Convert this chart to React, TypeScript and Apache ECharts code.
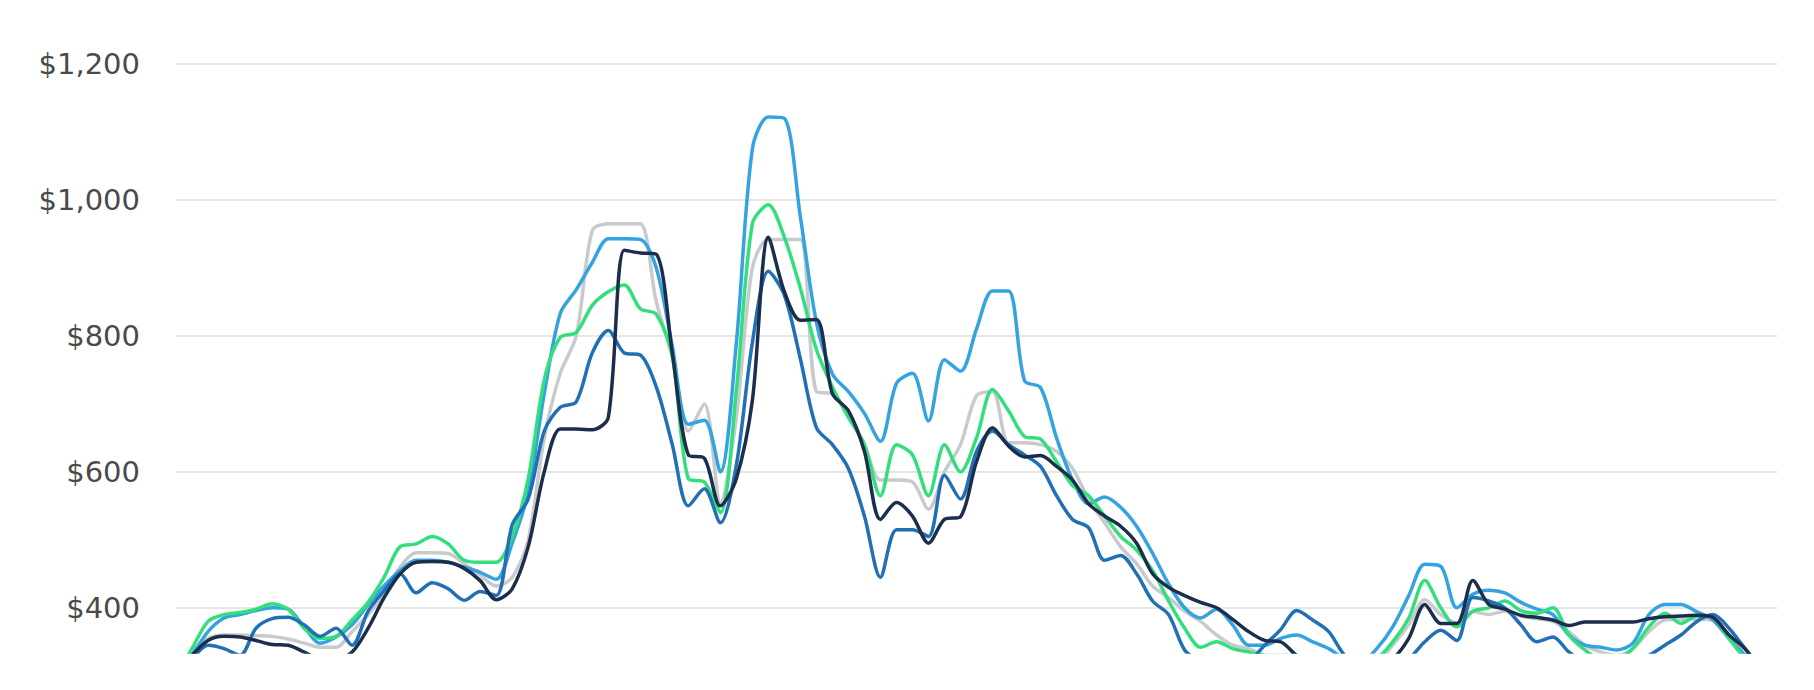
import React, { useEffect, useRef } from "react";
import * as echarts from "echarts";

// 101 evenly spaced observations (x positions are set by the category axis)
const categories: string[] = Array.from({ length: 101 }, (_, i) => `P${i + 1}`);

const yTicks = [400, 600, 800, 1000, 1200];

const skyValues = [
  300, 330, 365, 385, 390, 396, 400, 398, 372, 348,
  357, 375, 405, 432, 455, 470, 470, 467, 460, 452,
  442, 495, 570, 715, 833, 868, 908, 943, 943, 942,
  900, 785, 670, 676, 600, 790, 1075, 1122, 1120, 975,
  820, 744, 718, 686, 645, 730, 745, 675, 765, 748,
  810, 866, 866, 734, 724, 650, 588, 553, 563, 548,
  520, 480, 435, 400, 385, 398, 375, 345, 345, 355,
  360, 350, 340, 325, 320, 340, 372, 418, 464, 461,
  400, 420, 426, 422, 408, 398, 390, 360, 345, 342,
  338, 348, 390, 405, 405, 394, 382, 355, 330, 305,
  290,
];

const greenValues = [
  300, 340, 380, 390, 393, 398, 406, 398, 370, 355,
  358, 382, 408, 445, 490, 494, 505, 494, 470, 467,
  467, 505, 590, 735, 798, 805, 845, 865, 875, 840,
  832, 770, 590, 585, 540, 720, 965, 993, 945, 870,
  780, 725, 680, 640, 565, 640, 625, 565, 640, 600,
  650, 721, 690, 652, 648, 615, 580, 565, 535, 505,
  485, 455, 410, 370, 342, 350, 340, 335, 330, 330,
  330, 320, 320, 315, 315, 325, 350, 385, 440, 400,
  372, 395, 400, 410, 396, 392, 400, 360, 338, 325,
  325, 340, 372, 392, 377, 388, 385, 355, 325, 300,
  290,
];

const navyValues = [
  300, 330, 352, 358, 357, 352, 346, 345, 335, 325,
  325, 335, 370, 415, 450, 467, 468, 467, 458, 440,
  412, 428, 490, 600, 663, 663, 662, 680, 926, 922,
  920, 775, 625, 620, 550, 590, 705, 945, 865, 823,
  824, 715, 690, 630, 530, 555, 535, 495, 530, 534,
  615, 665, 638, 622, 624, 608, 588, 553, 535, 520,
  495, 450, 430, 418, 408, 400, 383, 365, 352, 350,
  330, 320, 320, 320, 315, 315, 325, 355, 405, 377,
  377, 440, 405, 398, 389, 386, 382, 374, 379, 379,
  379, 379, 384, 387, 388, 389, 386, 360, 340, 310,
  290,
];

const blueValues = [
  300, 325, 345, 340, 330, 370, 384, 386, 375, 358,
  370, 345, 395, 425, 450, 422, 437, 428, 411, 424,
  418, 522, 560, 660, 695, 703, 775, 808, 775, 772,
  725, 640, 550, 575, 525, 610, 790, 895, 860, 766,
  665, 640, 605, 535, 445, 515, 515, 505, 595, 560,
  630, 660, 640, 625, 608, 565, 530, 518, 470, 477,
  450, 410, 390, 338, 320, 310, 310, 320, 345, 368,
  396, 382, 365, 330, 315, 310, 315, 325, 350, 367,
  352, 415, 410, 400, 375, 350, 357, 335, 320, 315,
  315, 320, 330, 345, 360, 380, 390, 370, 340, 310,
  290,
];

const grayValues = [
  300, 335, 355, 360, 360, 359, 358, 354, 348, 342,
  342, 365, 390, 420, 460, 481, 481, 480, 465, 448,
  432, 445, 500, 650, 745, 800, 955, 965, 965, 965,
  850, 770, 660, 700, 555, 680, 900, 942, 942, 942,
  718, 715, 685, 640, 588, 588, 585, 545, 600, 640,
  712, 718, 643, 643, 640, 630, 605, 560, 525, 490,
  465, 432, 415, 395, 380, 360, 345, 340, 330, 325,
  320, 320, 315, 315, 315, 320, 345, 375, 412, 390,
  378, 395, 390, 395, 388, 384, 380, 365, 345, 335,
  330, 340, 365, 382, 383, 383, 382, 360, 330, 305,
  290,
];

const seriesDefs = [
  { name: "Series E", data: grayValues, color: "#c9cacc" },
  { name: "Series C", data: skyValues, color: "#34a3df" },
  { name: "Series D", data: greenValues, color: "#33df7c" },
  { name: "Series B", data: blueValues, color: "#2170b6" },
  { name: "Series A", data: navyValues, color: "#1b2e4b" },
];

export default function App() {
  const ref = useRef<HTMLDivElement>(null);

  useEffect(() => {
    if (!ref.current) return;
    const chart = echarts.init(ref.current, null, { renderer: "svg" });
    chart.setOption({
      animation: false,
      backgroundColor: "#ffffff",
      grid: { left: 176, right: 37, top: 64, bottom: 38, containLabel: false },
      xAxis: {
        type: "category",
        data: categories,
        boundaryGap: false,
        show: false,
      },
      yAxis: {
        type: "value",
        min: 335,
        max: 1200,
        axisLine: { show: false },
        axisTick: { show: false, customValues: yTicks },
        axisLabel: {
          customValues: yTicks,
          margin: 36,
          color: "#4a4a4a",
          fontFamily: "DejaVu Sans",
          fontSize: 29,
          formatter: (v: number) => "$" + Number(v).toLocaleString("en-US"),
        },
        splitLine: { show: true, lineStyle: { color: "#e6e6e6", width: 2 } },
      },
      series: seriesDefs.map((s) => ({
        name: s.name,
        type: "line",
        data: s.data,
        smooth: 0.3,
        symbol: "none",
        clip: true,
        lineStyle: { color: s.color, width: 3.5 },
        itemStyle: { color: s.color },
      })),
    });
    return () => chart.dispose();
  }, []);

  return (
    <div
      ref={ref}
      style={{ position: "fixed", left: 0, top: 0, width: 1814, height: 690, background: "#fff" }}
    />
  );
}
